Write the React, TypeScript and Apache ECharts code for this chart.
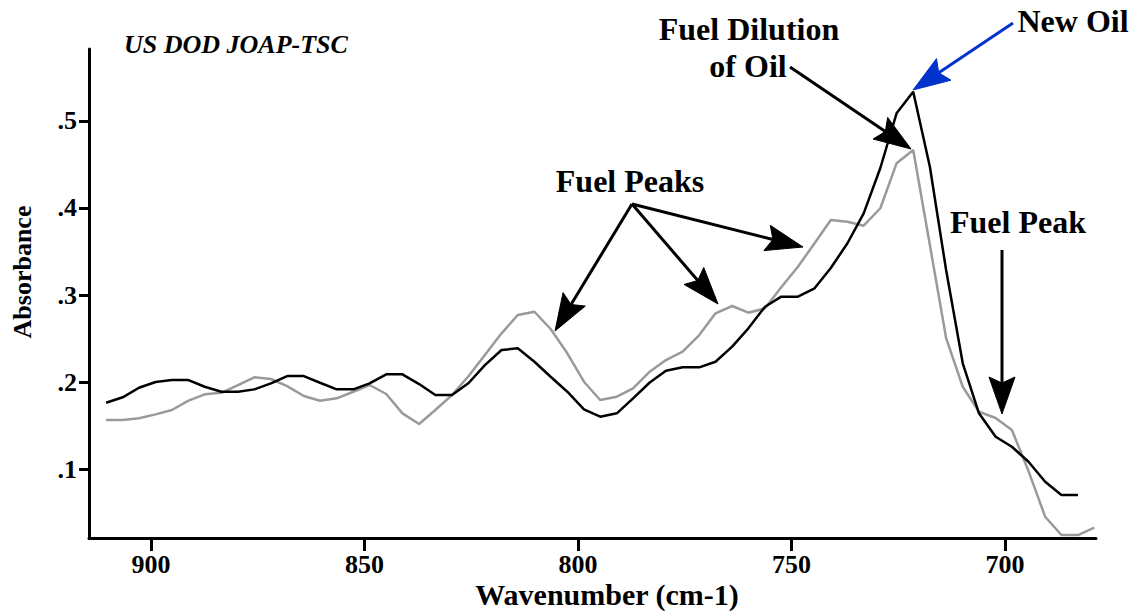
import React, { useEffect, useRef } from "react";
import * as echarts from "echarts";

const wavenumbers = [
  910.5, 906.6, 902.8, 898.9, 895.1, 891.2, 887.4, 883.5, 879.6, 875.8,
  871.9, 868.1, 864.2, 860.4, 856.5, 852.6, 848.8, 844.9, 841.1, 837.2,
  833.4, 829.5, 825.6, 821.8, 817.9, 814.1, 810.2, 806.4, 802.5, 798.6,
  794.8, 790.9, 787.1, 783.2, 779.4, 775.5, 771.6, 767.8, 763.9, 760.1,
  756.2, 752.4, 748.5, 744.6, 740.8, 736.9, 733.1, 729.2, 725.4, 721.5,
  717.6, 713.8, 709.9, 706.1, 702.2, 698.4, 694.5, 690.6, 686.8, 682.9,
  679.1,
];

// New oil spectrum (black)
const newOilAbs = [
  0.1765, 0.1827, 0.1937, 0.2002, 0.2025, 0.2025, 0.1948, 0.1891, 0.1891, 0.1918,
  0.1987, 0.2071, 0.2071, 0.1994, 0.1918, 0.1918, 0.1987, 0.2091, 0.2091, 0.1979,
  0.1853, 0.1853, 0.1991, 0.2197, 0.237, 0.2389, 0.2235, 0.2063, 0.1891, 0.1689,
  0.1604, 0.1643, 0.1815, 0.1997, 0.2132, 0.2171, 0.2171, 0.2235, 0.2408, 0.2619,
  0.2867, 0.2982, 0.2982, 0.3078, 0.3311, 0.3595, 0.3939, 0.4459, 0.5087, 0.5335,
  0.4474, 0.3288, 0.2217, 0.1643, 0.1374, 0.1259, 0.1087, 0.0858, 0.0705, 0.0705,
];

// Fuel-diluted oil spectrum (grey)
const fuelDilutedAbs = [
  0.1566, 0.1566, 0.1586, 0.1631, 0.1681, 0.1788, 0.1861, 0.1879, 0.1968, 0.2056,
  0.2037, 0.1956, 0.1842, 0.1788, 0.1815, 0.1891, 0.1968, 0.1865, 0.1643, 0.152,
  0.1681, 0.1853, 0.2071, 0.2312, 0.2561, 0.2772, 0.2809, 0.2611, 0.2332, 0.2006,
  0.1796, 0.1834, 0.193, 0.2121, 0.2255, 0.235, 0.2542, 0.2791, 0.2875, 0.2798,
  0.2848, 0.309, 0.3326, 0.3595, 0.3862, 0.3843, 0.3797, 0.3997, 0.4513, 0.4666,
  0.3575, 0.2507, 0.1948, 0.1661, 0.1589, 0.1451, 0.098, 0.0456, 0.0246, 0.0246,
  0.033,
];

const xTickValues = [900, 850, 800, 750, 700];
const yTickValues = [0.1, 0.2, 0.3, 0.4, 0.5];

const SERIF = '"Liberation Serif", "Times New Roman", Times, serif';

function text(t: string, x: number, y: number, size: number, opts: any = {}) {
  return {
    type: "text",
    x,
    y,
    rotation: opts.rotation || 0,
    z: 100,
    style: {
      text: t,
      fill: "#000",
      font: `${opts.italic ? "italic " : ""}bold ${size}px ${SERIF}`,
      textAlign: opts.align || "center",
      textVerticalAlign: "middle",
      align: opts.align || "center",
      verticalAlign: "middle",
    },
  };
}

function arrow(x1: number, y1: number, x2: number, y2: number, color = "#000") {
  const L = 37;
  const W = 13;
  const notch = 6;
  const dx = x2 - x1;
  const dy = y2 - y1;
  const len = Math.sqrt(dx * dx + dy * dy);
  const ux = dx / len;
  const uy = dy / len;
  const nx = -uy;
  const ny = ux;
  const bx = x2 - ux * L;
  const by = y2 - uy * L;
  const ex = x2 - ux * (L - notch);
  const ey = y2 - uy * (L - notch);
  return [
    {
      type: "line",
      z: 100,
      shape: { x1, y1, x2: ex, y2: ey },
      style: { stroke: color, lineWidth: 3 },
    },
    {
      type: "polygon",
      z: 100,
      shape: {
        points: [
          [x2, y2],
          [bx + nx * W, by + ny * W],
          [ex, ey],
          [bx - nx * W, by - ny * W],
        ],
      },
      style: { fill: color, stroke: color, lineWidth: 1 },
    },
  ];
}

export default function App() {
  const ref = useRef<HTMLDivElement>(null);

  useEffect(() => {
    document.body.style.margin = "0";
    if (!ref.current) return;
    const chart = echarts.init(ref.current, null, { renderer: "svg" });

    const axisFont = {
      fontFamily: SERIF,
      fontWeight: "bold",
      fontSize: 26,
      color: "#000",
    };

    const option: any = {
      animation: false,
      backgroundColor: "#fff",
      grid: {
        left: 89,
        right: 39,
        top: 49,
        bottom: 74,
        containLabel: false,
        outerBoundsMode: "none",
      },
      xAxis: {
        type: "value",
        inverse: true,
        min: 678.7,
        max: 914.5,
        axisLine: { show: true, onZero: false, lineStyle: { color: "#000", width: 3 } },
        axisTick: {
          show: true,
          customValues: xTickValues,
          length: 13,
          inside: false,
          lineStyle: { color: "#000", width: 3 },
        },
        axisLabel: {
          show: true,
          customValues: xTickValues,
          margin: 14,
          lineHeight: 24,
          ...axisFont,
        },
        splitLine: { show: false },
      },
      yAxis: {
        type: "value",
        min: 0.0212,
        max: 0.5825,
        axisLine: { show: true, onZero: false, lineStyle: { color: "#000", width: 3 } },
        axisTick: {
          show: true,
          customValues: yTickValues,
          length: 10,
          inside: false,
          lineStyle: { color: "#000", width: 3 },
        },
        axisLabel: {
          show: true,
          customValues: yTickValues,
          margin: 12,
          formatter: (v: number) => "." + Math.round(v * 10),
          ...axisFont,
        },
        splitLine: { show: false },
      },
      series: [
        {
          type: "line",
          name: "Fuel diluted oil",
          data: wavenumbers.map((w, i) => [w, fuelDilutedAbs[i]]),
          symbol: "none",
          silent: true,
          lineStyle: { color: "#9a9a9a", width: 2.5 },
        },
        {
          type: "line",
          name: "New oil",
          data: newOilAbs.map((a, i) => [wavenumbers[i], a]),
          symbol: "none",
          silent: true,
          lineStyle: { color: "#000", width: 2.5 },
        },
      ],
      graphic: {
        elements: [
          text("US DOD JOAP-TSC", 124, 44, 26, { italic: true, align: "left" }),
          text("Absorbance", 22, 272, 26, { rotation: Math.PI / 2 }),
          text("Wavenumber (cm-1)", 607, 594, 30),
          text("Fuel Dilution", 749, 29, 32),
          text("of Oil", 748, 66, 32),
          text("New Oil", 1073, 21, 32),
          text("Fuel Peaks", 630, 181, 32),
          text("Fuel Peak", 1018, 222, 32),
          ...arrow(790, 67, 911, 149),
          ...arrow(1013, 23, 913, 90, "#0033cc"),
          ...arrow(632, 204, 555, 331),
          ...arrow(632, 204, 718, 304),
          ...arrow(632, 204, 803, 247),
          ...arrow(1002, 250, 1002, 414),
        ],
      },
    };

    chart.setOption(option);
    return () => chart.dispose();
  }, []);

  return <div ref={ref} style={{ width: 1135, height: 612 }} />;
}
